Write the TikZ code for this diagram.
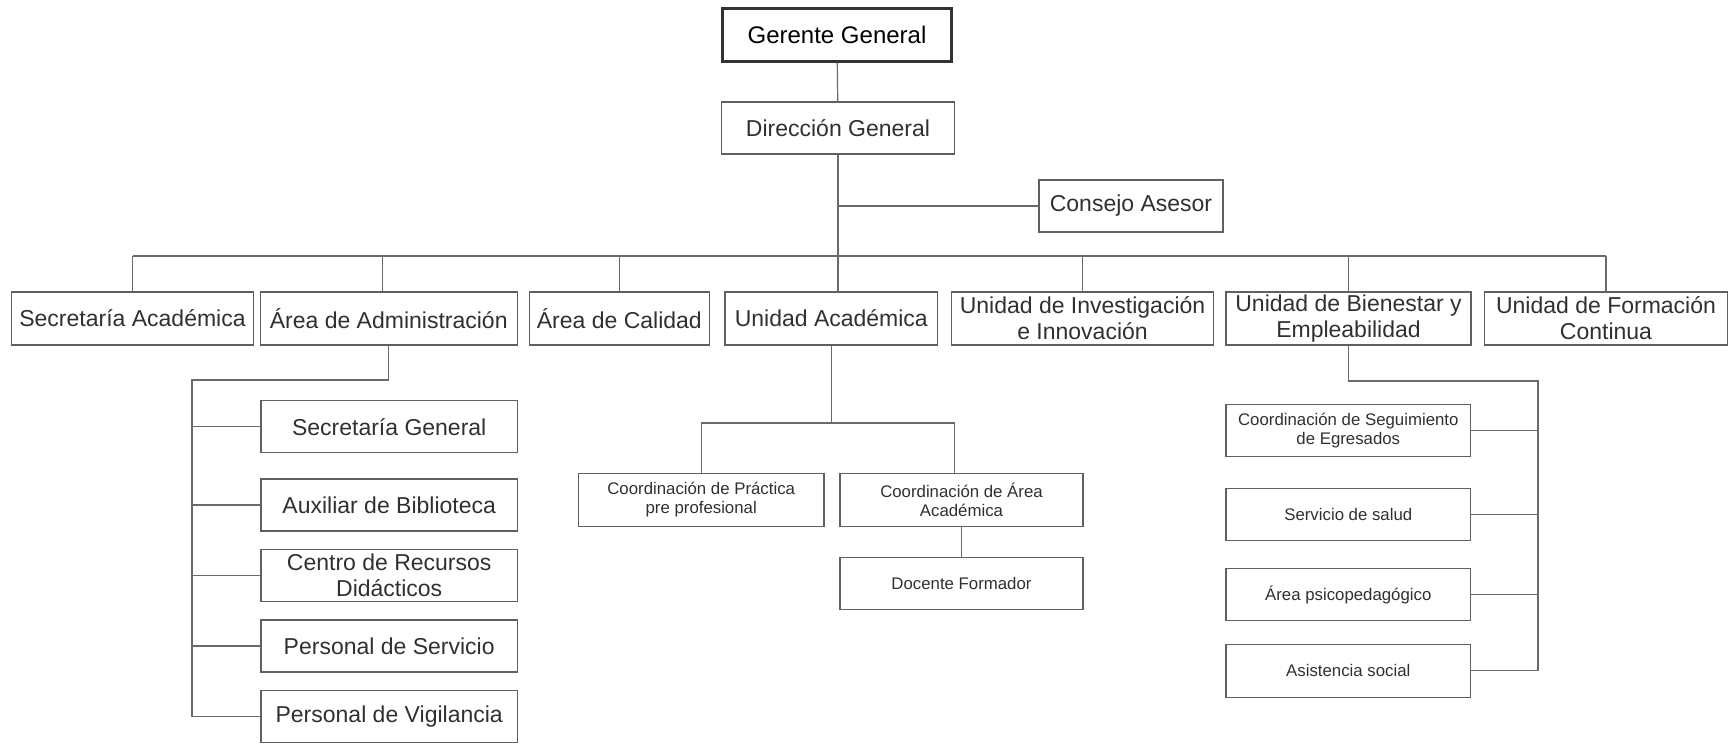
\documentclass[tikz,border=0pt]{standalone}
\usepackage{fontspec}
\setmainfont{Liberation Sans}
\usepackage{tikz}
\definecolor{boxgray}{HTML}{606060}
\definecolor{linegray}{HTML}{6A6A6A}
\definecolor{textgray}{HTML}{303030}

\begin{document}
\begin{tikzpicture}[
    x=1pt, y=-1pt,
    unit/.style={rectangle, draw=boxgray, line width=1.2pt, text=textgray,
                 inner sep=1pt, align=center, minimum height=53pt,
                 font=\fontsize{23}{26}\selectfont},
    subunit/.style={unit, minimum height=52pt, font=\fontsize{16.8}{19}\selectfont},
    head/.style={unit, draw=black!80, line width=2.4pt, text=black,
                 font=\fontsize{24}{27}\selectfont},
    link/.style={draw=linegray, line width=1.2pt},
  ]
  \useasboundingbox (0,0) rectangle (1728,744);

  % top
  \node[head, minimum width=229pt] (gerente) at (837,35) {Gerente General};
  \node[unit, minimum width=233pt, minimum height=52pt] (direccion) at (838,128) {Dirección General};
  \node[unit, minimum width=184pt, minimum height=52pt] (consejo) at (1131,206) {Consejo Asesor};

  % first level
  \node[unit, minimum width=241.5pt] (secacad) at (132.5,318.5) {Secretaría Académica};
  \node[unit, minimum width=257pt] (admin) at (388.7,318.5) {Área de Administración};
  \node[unit, minimum width=180pt] (calidad) at (619.3,318.5) {Área de Calidad};
  \node[unit, minimum width=212.7pt] (uacad) at (831.3,318.5) {Unidad Académica};
  \node[unit, minimum width=261.6pt] (invest) at (1082.5,318.5) {Unidad de Investigación\\e Innovación};
  \node[unit, minimum width=245pt] (bienestar) at (1348.5,318.5) {Unidad de Bienestar y\\Empleabilidad};
  \node[unit, minimum width=243pt] (formacion) at (1606,318.5) {Unidad de Formación\\Continua};

  % administracion
  \node[unit, minimum width=256.3pt, minimum height=52pt] (secgen) at (389.2,426.7) {Secretaría General};
  \node[unit, minimum width=256.3pt, minimum height=52pt] (auxbib) at (389.2,505) {Auxiliar de Biblioteca};
  \node[unit, minimum width=256.3pt, minimum height=52pt] (centro) at (389.2,575.5) {Centro de Recursos\\Didácticos};
  \node[unit, minimum width=256.3pt, minimum height=52pt] (servicio) at (389.2,646) {Personal de Servicio};
  \node[unit, minimum width=256.3pt, minimum height=52pt] (vigilancia) at (389.2,716.7) {Personal de Vigilancia};

  % unidad academica
  \node[subunit, minimum width=245.7pt, minimum height=53pt] (coordprac) at (701.2,500) {Coordinación de Práctica\\pre profesional};
  \node[subunit, minimum width=243pt, minimum height=53pt] (coordarea) at (961.5,500) {Coordinación de Área\\Académica};
  \node[subunit, minimum width=243pt] (docente) at (961.5,583.5) {Docente Formador};

  % bienestar
  \node[subunit, minimum width=244.7pt] (seguimiento) at (1348.3,430.8) {Coordinación de Seguimiento\\de Egresados};
  \node[subunit, minimum width=244.7pt] (salud) at (1348.3,514.2) {Servicio de salud};
  \node[subunit, minimum width=244.7pt] (psico) at (1348.3,594.8) {Área psicopedagógico};
  \node[subunit, minimum width=244.7pt, minimum height=53pt] (asistencia) at (1348.3,670.8) {Asistencia social};

  % lines
  \coordinate (bus) at (0,256);
  \draw[link] (gerente) -- (direccion);
  \draw[link] (direccion.south) -- (direccion.south |- uacad.north);
  \draw[link] (direccion.south |- consejo.west) -- (consejo.west);
  \draw[link] (secacad.north |- bus) -- (formacion.north |- bus);
  \foreach \n in {secacad, calidad, invest, bienestar, formacion}
    \draw[link] (\n.north) -- (\n.north |- bus);
  \draw[link] ([xshift=-6pt]admin.north) -- ([xshift=-6pt]admin.north |- bus);

  \coordinate (admbus) at (192,380);
  \draw[link] (admin.south) |- (admbus) -- (admbus |- vigilancia.west) -- (vigilancia.west);
  \foreach \n in {secgen, auxbib, centro, servicio}
    \draw[link] (\n.west) -- (\n.west -| admbus);

  \coordinate (uabus) at (0,423);
  \coordinate (cadrop) at ([xshift=-7pt]coordarea.north);
  \draw[link] (uacad.south) -- (uacad.south |- uabus);
  \draw[link] (coordprac.north) |- (cadrop |- uabus) -- (cadrop);
  \draw[link] (coordarea) -- (docente);

  \coordinate (bibus) at (1538,381);
  \draw[link] (bienestar.south) |- (bibus) -- (bibus |- asistencia.east) -- (asistencia.east);
  \foreach \n in {seguimiento, salud, psico}
    \draw[link] (\n.east) -- (\n.east -| bibus);
\end{tikzpicture}
\end{document}
